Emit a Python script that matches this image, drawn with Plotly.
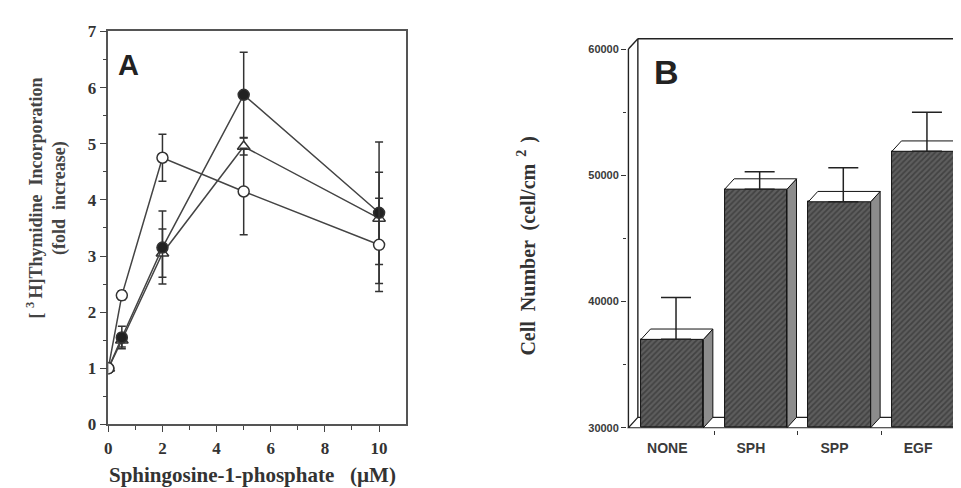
import plotly.graph_objects as go

# ---------------- Panel A data ----------------
conc = [0, 0.5, 2, 5, 10]
open_circle = [1.0, 2.3, 4.75, 4.15, 3.2]
open_circle_err = [0.04, 0.08, 0.42, 0.77, 0.83]
filled_circle = [1.0, 1.55, 3.15, 5.87, 3.77]
filled_circle_err = [0.04, 0.2, 0.65, 0.76, 1.26]
open_triangle = [1.0, 1.5, 3.05, 4.95, 3.67]
open_triangle_err = [0.04, 0.12, 0.43, 0.15, 0.82]

# ---------------- Panel B data ----------------
categories = ["NONE", "SPH", "SPP", "EGF"]
cell_number = [37000, 48900, 47900, 51900]
cell_err_top = [40320, 50280, 50600, 55000]
b_tickvals = [30000, 40000, 50000, 60000]
b_ticktext = ["30000", "40000", "50000", "60000"]

B_BASE = 30000
DX = 0.113      # 3D depth offset (x units)
DY = 820        # 3D depth offset (y units)
BAR_W = 0.745
X2_LO, X2_HI = -0.54, 3.548
X2_AXIS = -0.524

serif = "Liberation Serif"
sans = "Liberation Sans"
ink = "#333333"

fig = go.Figure()

# ---- Panel A traces ----
series = [
    (open_triangle, open_triangle_err, "triangle-up", "white", 11),
    (filled_circle, filled_circle_err, "circle", "#222222", 11),
    (open_circle, open_circle_err, "circle", "white", 11),
]
for ys, es, sym, fill, sz in series:
    fig.add_trace(go.Scatter(
        x=conc, y=ys, mode="lines+markers",
        line=dict(color="#444444", width=1.5),
        marker=dict(symbol=sym, size=sz, color=fill,
                    line=dict(color="#333333", width=1.5)),
        error_y=dict(type="data", array=es, visible=True,
                     color="#333333", thickness=1.5, width=4),
        xaxis="x", yaxis="y", showlegend=False, hoverinfo="skip"))

# ---- Panel B traces ----
fig.add_trace(go.Bar(
    x=list(range(len(categories))),
    y=[v - B_BASE for v in cell_number], base=B_BASE,
    width=BAR_W,
    marker=dict(color="#4a4a4a",
                line=dict(color="#111111", width=1),
                pattern=dict(shape="/", bgcolor="#5e5e5e", fgcolor="#262626",
                             size=4, solidity=0.45)),
    xaxis="x2", yaxis="y2", showlegend=False, hoverinfo="skip"))

top_x, top_y, side_x, side_y = [], [], [], []
for i, v in enumerate(cell_number):
    x0, x1 = i - BAR_W / 2, i + BAR_W / 2
    top_x += [x0, x1, x1 + DX, x0 + DX, x0, None]
    top_y += [v, v, v + DY, v + DY, v, None]
    side_x += [x1, x1, x1 + DX, x1 + DX, x1, None]
    side_y += [B_BASE, v, v + DY, B_BASE + DY, B_BASE, None]

fig.add_trace(go.Scatter(
    x=side_x, y=side_y, mode="lines", fill="toself",
    fillcolor="#8c8c8c", line=dict(color="#111111", width=1),
    xaxis="x2", yaxis="y2", showlegend=False, hoverinfo="skip"))
fig.add_trace(go.Scatter(
    x=top_x, y=top_y, mode="lines", fill="toself",
    fillcolor="white", line=dict(color="#111111", width=1),
    xaxis="x2", yaxis="y2", showlegend=False, hoverinfo="skip"))
fig.add_trace(go.Scatter(
    x=[i + DX * 0.4 for i in range(len(categories))], y=cell_number,
    mode="markers", marker=dict(size=1, color="rgba(0,0,0,0)"),
    error_y=dict(type="data", symmetric=False,
                 array=[t - v for t, v in zip(cell_err_top, cell_number)],
                 arrayminus=[0] * len(cell_number),
                 color="#222222", thickness=1.5, width=15),
    xaxis="x2", yaxis="y2", showlegend=False, hoverinfo="skip"))

# ---- Panel B frame shapes ----
line_style = dict(color="#222222", width=1.4)
fig.add_shape(type="path", xref="x2", yref="y2", layer="below",
              path=(f"M{X2_AXIS},{B_BASE} L{X2_HI},{B_BASE} "
                    f"L{X2_HI},{B_BASE + DY} L{X2_AXIS + DX},{B_BASE + DY} Z"),
              fillcolor="white", line=dict(color="#222222", width=1.2))
fig.add_shape(type="line", xref="x2", yref="y2",
              x0=X2_AXIS, x1=X2_AXIS, y0=B_BASE, y1=60000, line=line_style)
fig.add_shape(type="line", xref="x2", yref="y2",
              x0=X2_AXIS, x1=X2_AXIS + DX, y0=60000, y1=60000 + DY, line=line_style)
fig.add_shape(type="line", xref="x2", yref="y2",
              x0=X2_AXIS + DX, x1=X2_HI, y0=60000 + DY, y1=60000 + DY, line=line_style)
fig.add_shape(type="line", xref="x2", yref="y2", layer="below",
              x0=X2_AXIS + DX, x1=X2_AXIS + DX, y0=B_BASE + DY, y1=60000 + DY,
              line=line_style)
fig.add_shape(type="line", xref="x2", yref="y2", layer="below",
              x0=X2_HI - 0.01, x1=X2_HI - 0.01, y0=B_BASE + DY, y1=60000 + DY,
              line=line_style)

# ---- Layout ----
W, H = 961, 488
fig.update_layout(
    width=W, height=H, margin=dict(l=0, r=0, t=0, b=0),
    paper_bgcolor="white", plot_bgcolor="white",
    bargap=0,
    xaxis=dict(domain=[96.7 / W, 395.8 / W], range=[0, 11],
               tickmode="array", tickvals=[0, 2, 4, 6, 8, 10],
               ticks="outside", ticklen=6, tickwidth=1.3, tickcolor="#444",
               minor=dict(tickmode="array", tickvals=[1, 3, 5, 7, 9],
                          ticks="outside", ticklen=4, tickwidth=1.2, tickcolor="#444"),
               showline=True, linecolor="#555555", linewidth=1.5, mirror=True,
               showgrid=False, zeroline=False, ticklabelstandoff=1,
               tickfont=dict(family=serif, size=17, color=ink, weight="bold")),
    yaxis=dict(domain=[(H - 424) / H, (H - 15) / H], range=[0, 7],
               tickmode="array", tickvals=[0, 1, 2, 3, 4, 5, 6, 7],
               ticks="outside", ticklen=7, tickwidth=1.3, tickcolor="#444",
               minor=dict(tickmode="array",
                          tickvals=[0.5, 1.5, 2.5, 3.5, 4.5, 5.5, 6.5],
                          ticks="outside", ticklen=4, tickwidth=1.2, tickcolor="#444"),
               showline=True, linecolor="#555555", linewidth=1.5, mirror=True,
               showgrid=False, zeroline=False,
               tickfont=dict(family=serif, size=17, color=ink, weight="bold")),
    xaxis2=dict(domain=[(663 + X2_LO * 84) / W, 1.0], range=[X2_LO, X2_HI],
                anchor="y2",
                tickmode="array", tickvals=[0, 1, 2, 3], ticktext=categories,
                ticks="", ticklabelshift=-5, ticklabelstandoff=8,
                minor=dict(tickmode="array", tickvals=[0.5, 1.5, 2.5],
                           ticks="outside", ticklen=4, tickwidth=1.3,
                           tickcolor="#333"),
                showline=False, showgrid=False, zeroline=False,
                tickfont=dict(family=sans, size=14, color="#3a3a3a", weight="bold")),
    yaxis2=dict(domain=[(H - 430.0) / H, (H - 20.2) / H], range=[29800, 61000],
                anchor="x2",
                tickmode="array", tickvals=b_tickvals, ticktext=b_ticktext,
                ticks="outside", ticklen=5, tickwidth=1.3, tickcolor="#333",
                minor=dict(tickmode="array", tickvals=[35000, 45000, 55000],
                           ticks="outside", ticklen=3, tickwidth=1.2,
                           tickcolor="#333"),
                showline=False, showgrid=False, zeroline=False,
                tickfont=dict(family=sans, size=11, color="#3a3a3a", weight="bold")),
)

ann = [
    dict(text="A", x=117 / W, y=(H - 50) / H,
         font=dict(family=sans, size=29, color="#222", weight="bold")),
    dict(text="B", x=657 / W, y=(H - 57) / H,
         font=dict(family=sans, size=34, color="#222", weight="bold")),
    dict(text="Sphingosine-1-phosphate   (µM)", x=242 / W, y=(H - 477) / H,
         font=dict(family=serif, size=21, color=ink, weight="bold")),
    dict(text="[ <sup>3 </sup>H]Thymidine  Incorporation<br>(fold  increase)",
         x=35 / W, y=(H - 188) / H, textangle=-90,
         font=dict(family=serif, size=18, color="#444", weight="bold")),
    dict(text="Cell  Number  (cell/cm<sup>  2  </sup>)", x=517 / W, y=(H - 238) / H,
         textangle=-90,
         font=dict(family=serif, size=20, color="#333", weight="bold")),
]
for a in ann:
    a.update(xref="paper", yref="paper", showarrow=False,
             xanchor="center", yanchor="middle")
    fig.add_annotation(**a)

fig.write_html("out.html")
